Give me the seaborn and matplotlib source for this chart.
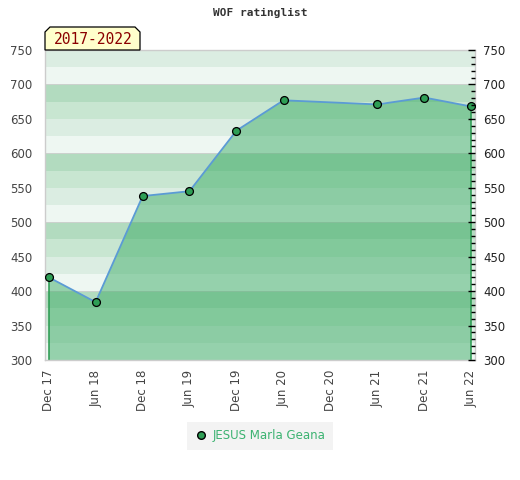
import matplotlib
matplotlib.use("Agg")
import matplotlib.pyplot as plt
from matplotlib.lines import Line2D
from matplotlib.patches import Polygon
import seaborn as sns
import pandas as pd

# Daten
datum = ["2017-12-01", "2018-06-01", "2018-12-01", "2019-06-01", "2019-12-01",
         "2020-06-01", "2021-06-01", "2021-12-01", "2022-06-01"]
rating = [420, 384, 538, 545, 633, 677, 671, 681, 668]
tick_datum = ["2017-12-01", "2018-06-01", "2018-12-01", "2019-06-01", "2019-12-01",
              "2020-06-01", "2020-12-01", "2021-06-01", "2021-12-01", "2022-06-01"]
tick_labels = ["Dec 17", "Jun 18", "Dec 18", "Jun 19", "Dec 19",
               "Jun 20", "Dec 20", "Jun 21", "Dec 21", "Jun 22"]
spieler = "JESUS Marla Geana"
zeitraum = "2017-2022"

df = pd.DataFrame({"datum": pd.to_datetime(datum), "rating": rating})
ticks = pd.to_datetime(tick_datum)

sns.set_style("white")
fig = plt.figure(figsize=(5.2, 4.8), dpi=100)
ax = fig.add_axes([45 / 520, 1 - 360 / 480, 430 / 520, 310 / 480])

# Hintergrund-Streifen (je 25 Punkte)
band_farben = ["#b2dbbf", "#c8e6d1", "#dbede2", "#eef7f2"]
for unten in range(300, 750, 25):
    oben = unten + 25
    idx = ((800 - oben) // 25) % 4
    ax.axhspan(unten, oben, color=band_farben[idx], lw=0, zorder=0)
for y in range(400, 750, 100):
    ax.axhline(y, color="#d0d0d0", lw=0.6, zorder=0.5)

# Fläche + Linie + Punkte
ax.fill_between(df["datum"], 300, df["rating"], facecolor="#3ead67", alpha=0.5,
                edgecolor="none", zorder=1)
ax.vlines([df["datum"].iloc[0], df["datum"].iloc[-1]], 300,
          [rating[0], rating[-1]], color="#2a9a50", lw=1.1, zorder=2)
sns.lineplot(data=df, x="datum", y="rating", ax=ax, color="#5b9bd5", lw=1.3,
             zorder=3, legend=False)
sns.scatterplot(data=df, x="datum", y="rating", ax=ax, color="#2e9e55",
                edgecolor="black", linewidth=0.9, s=32, zorder=4, legend=False)

pad = pd.Timedelta(days=15)
ax.set_xlim(ticks[0] - pad, ticks[-1] + pad)
ax.set_ylim(300, 750)
ax.set_xticks(ticks)
ax.set_xticklabels(tick_labels, rotation=90, fontsize=8.5, color="#444444")
ax.set_yticks(range(300, 751, 50))
ax.tick_params(axis="y", labelsize=8.5, labelcolor="#444444", length=0, pad=9)
ax.tick_params(axis="x", length=0, pad=7)
ax.set_xlabel("")
ax.set_ylabel("")
for s in ax.spines.values():
    s.set_color("#cccccc")
    s.set_linewidth(1)

# rechte Achse
ax2 = ax.twinx()
ax2.set_ylim(300, 750)
ax2.set_yticks(range(300, 751, 50))
ax2.set_yticks(range(300, 751, 10), minor=True)
ax2.tick_params(axis="y", which="major", direction="in", length=5, width=1,
                color="black", labelsize=8.5, labelcolor="#222222", pad=6)
ax2.tick_params(axis="y", which="minor", direction="in", length=3, width=1,
                color="black")
for s in ax2.spines.values():
    s.set_visible(False)

# Titel
fig.text(0.5, 1 - 13 / 480, "WOF ratinglist", ha="center", va="center",
         fontsize=8, fontweight="bold", family="DejaVu Sans Mono", color="#333333")

# Zeitraum-Schild mit abgeschrägten Ecken
ecken = [(45, 50), (45, 32), (50, 27), (135, 27), (140, 32), (140, 50)]
schild = Polygon([(x / 520, 1 - y / 480) for x, y in ecken], closed=True,
                 transform=fig.transFigure, facecolor="#ffffcc",
                 edgecolor="black", lw=0.9, zorder=5)
fig.patches.append(schild)
fig.text(93 / 520, 1 - 39.5 / 480, zeitraum, ha="center", va="center",
         fontsize=10.5, color="#8b0000", family="DejaVu Sans Mono", zorder=6)

# Legende
handle = Line2D([], [], marker="o", ls="none", markerfacecolor="#2e9e55",
                markeredgecolor="black", markersize=5.5)
leg = fig.legend([handle], [spieler], loc="center",
                 bbox_to_anchor=(260 / 520, 1 - 436 / 480), frameon=True,
                 fontsize=8.5, handletextpad=0.4, borderpad=0.3,
                 handlelength=1.2, borderaxespad=0)
leg.get_frame().set_facecolor("#f0f0f0")
leg.get_frame().set_edgecolor("none")
leg.get_frame().set_boxstyle("square")
for t in leg.get_texts():
    t.set_color("#3cb371")

fig.savefig("out.png", dpi=100)
